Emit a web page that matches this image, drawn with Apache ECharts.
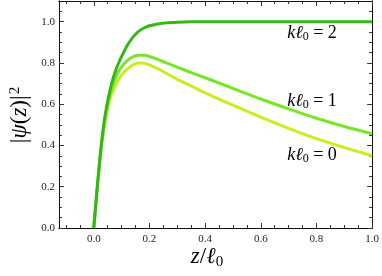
<!DOCTYPE html>
<html><head><meta charset="utf-8">
<script src="https://cdn.jsdelivr.net/npm/echarts@6/dist/echarts.min.js"></script>
<style>html,body{margin:0;padding:0;background:#fff}#c{width:382px;height:276px}</style>
</head><body><div id="c"></div>
<script>
// ---- data ----
var z0 = [0,0.01,0.02,0.03,0.04,0.05,0.06,0.07,0.08,0.09,0.10,0.12,0.14,0.16,0.18,0.20,0.23,0.26,0.30,0.35,0.40,0.50,0.60,0.70,0.80,0.90,1.0];
var psi_k0 = [0,0.155,0.30,0.42,0.51,0.58,0.63,0.665,0.695,0.72,0.74,0.77,0.79,0.80,0.798,0.79,0.772,0.75,0.72,0.688,0.655,0.595,0.537,0.483,0.433,0.39,0.35];
var psi_k1 = [0,0.158,0.305,0.43,0.525,0.60,0.655,0.697,0.732,0.76,0.781,0.811,0.829,0.837,0.837,0.831,0.817,0.80,0.78,0.753,0.728,0.677,0.625,0.577,0.532,0.492,0.457];
var psi_k2 = [0,0.16,0.31,0.44,0.54,0.615,0.678,0.728,0.768,0.802,0.831,0.884,0.924,0.952,0.969,0.98,0.989,0.994,0.997,0.999,1.0,1.0,1.0,1.0,1.0,1.0,1.0];
var seriesNames = ['k\u21130 = 0','k\u21130 = 1','k\u21130 = 2'];
var xMajor = [0,0.2,0.4,0.6,0.8,1.0];
var xMinor = [-0.1,-0.05,0,0.05,0.1,0.15,0.2,0.25,0.3,0.35,0.4,0.45,0.5,0.55,0.6,0.65,0.7,0.75,0.8,0.85,0.9,0.95,1.0];
var yMajor = [0,0.2,0.4,0.6,0.8,1.0];
var yMinor = [0,0.05,0.1,0.15,0.2,0.25,0.3,0.35,0.4,0.45,0.5,0.55,0.6,0.65,0.7,0.75,0.8,0.85,0.9,0.95,1.0,1.05];

function pairs(xs, ys){ return xs.map(function(x,i){return [x, ys[i]];}); }
var serif = '"Liberation Serif","DejaVu Serif",serif';
var lineC = '#111';

function xAx(pos, vals, len, labels){
  return {type:'value', min:-0.125, max:1.0, position:pos, gridIndex:0,
    axisLine:{show:true, onZero:false, lineStyle:{color:lineC, width:1}},
    axisTick:{show:true, inside:true, length:len, customValues:vals, lineStyle:{color:'#333'}},
    axisLabel:labels ? {show:true, customValues:xMajor, margin:6, color:'#222', fontFamily:serif, fontSize:11,
      formatter:function(v){return v.toFixed(1);}} : {show:false},
    splitLine:{show:false}};
}
function yAx(pos, vals, len, labels){
  return {type:'value', min:0, max:1.1, position:pos, gridIndex:0,
    axisLine:{show:true, onZero:false, lineStyle:{color:lineC, width:1}},
    axisTick:{show:true, inside:true, length:len, customValues:vals, lineStyle:{color:'#333'}},
    axisLabel:labels ? {show:true, customValues:yMajor, margin:4, color:'#222', fontFamily:serif, fontSize:11,
      formatter:function(v){return v.toFixed(1);}} : {show:false},
    splitLine:{show:false}};
}
var colors = ['#c8ee22','#77e628','#33b816'];
var datasets = [psi_k0, psi_k1, psi_k2];

var labRich = {
  i:{fontFamily:serif, fontStyle:'italic', fontSize:18, color:'#111'},
  s:{fontFamily:serif, fontSize:12, color:'#111', padding:[8,0,0,0]},
  n:{fontFamily:serif, fontSize:18, color:'#111'}
};
function lab(n, x, y){
  return {type:'text', x:x, y:y, style:{text:'{i|k\u2113}{s|0}{n| = '+n+'}', rich:labRich, align:'center', verticalAlign:'middle'}};
}

var option = {
  animation:false,
  backgroundColor:'#fff',
  grid:{left:59, right:6, top:1, bottom:48, show:false},
  xAxis:[xAx('bottom', xMajor, 5, true), xAx('bottom', xMinor, 3, false), xAx('top', xMajor, 5, false), xAx('top', xMinor, 3, false)],
  yAxis:[yAx('left', yMajor, 5, true), yAx('left', yMinor, 3, false), yAx('right', yMajor, 5, false), yAx('right', yMinor, 3, false)],
  series: datasets.map(function(d,i){
    return {type:'line', name:seriesNames[i], xAxisIndex:0, yAxisIndex:0, data:pairs(z0,d),
      smooth:0.25, showSymbol:false, symbol:'none', clip:true,
      lineStyle:{color:colors[i], width:3}, z:2+i};
  }),
  graphic:[
    lab('2', 312, 33), lab('1', 312, 101), lab('0', 312, 155),
    {type:'text', x:20, y:115, rotation:Math.PI/2,
      style:{text:'{n||}{i|\u03c8}{n|(}{i|z}{n|)|}{s|2}', align:'center', verticalAlign:'middle',
        rich:{n:{fontFamily:serif, fontSize:23, color:'#111'}, i:{fontFamily:serif, fontStyle:'italic', fontSize:23, color:'#111'},
              s:{fontFamily:serif, fontSize:15, color:'#111', padding:[0,0,10,1]}}}},
    {type:'text', x:207, y:257,
      style:{text:'{i|z}{n|/}{i|\u2113}{s|0}', align:'center', verticalAlign:'middle',
        rich:{n:{fontFamily:serif, fontSize:23, color:'#111'}, i:{fontFamily:serif, fontStyle:'italic', fontSize:23, color:'#111'},
              s:{fontFamily:serif, fontSize:15, color:'#111', padding:[10,0,0,0]}}}}
  ]
};
var chart = echarts.init(document.getElementById('c'), null, {renderer:'canvas'});
chart.setOption(option);
</script></body></html>
